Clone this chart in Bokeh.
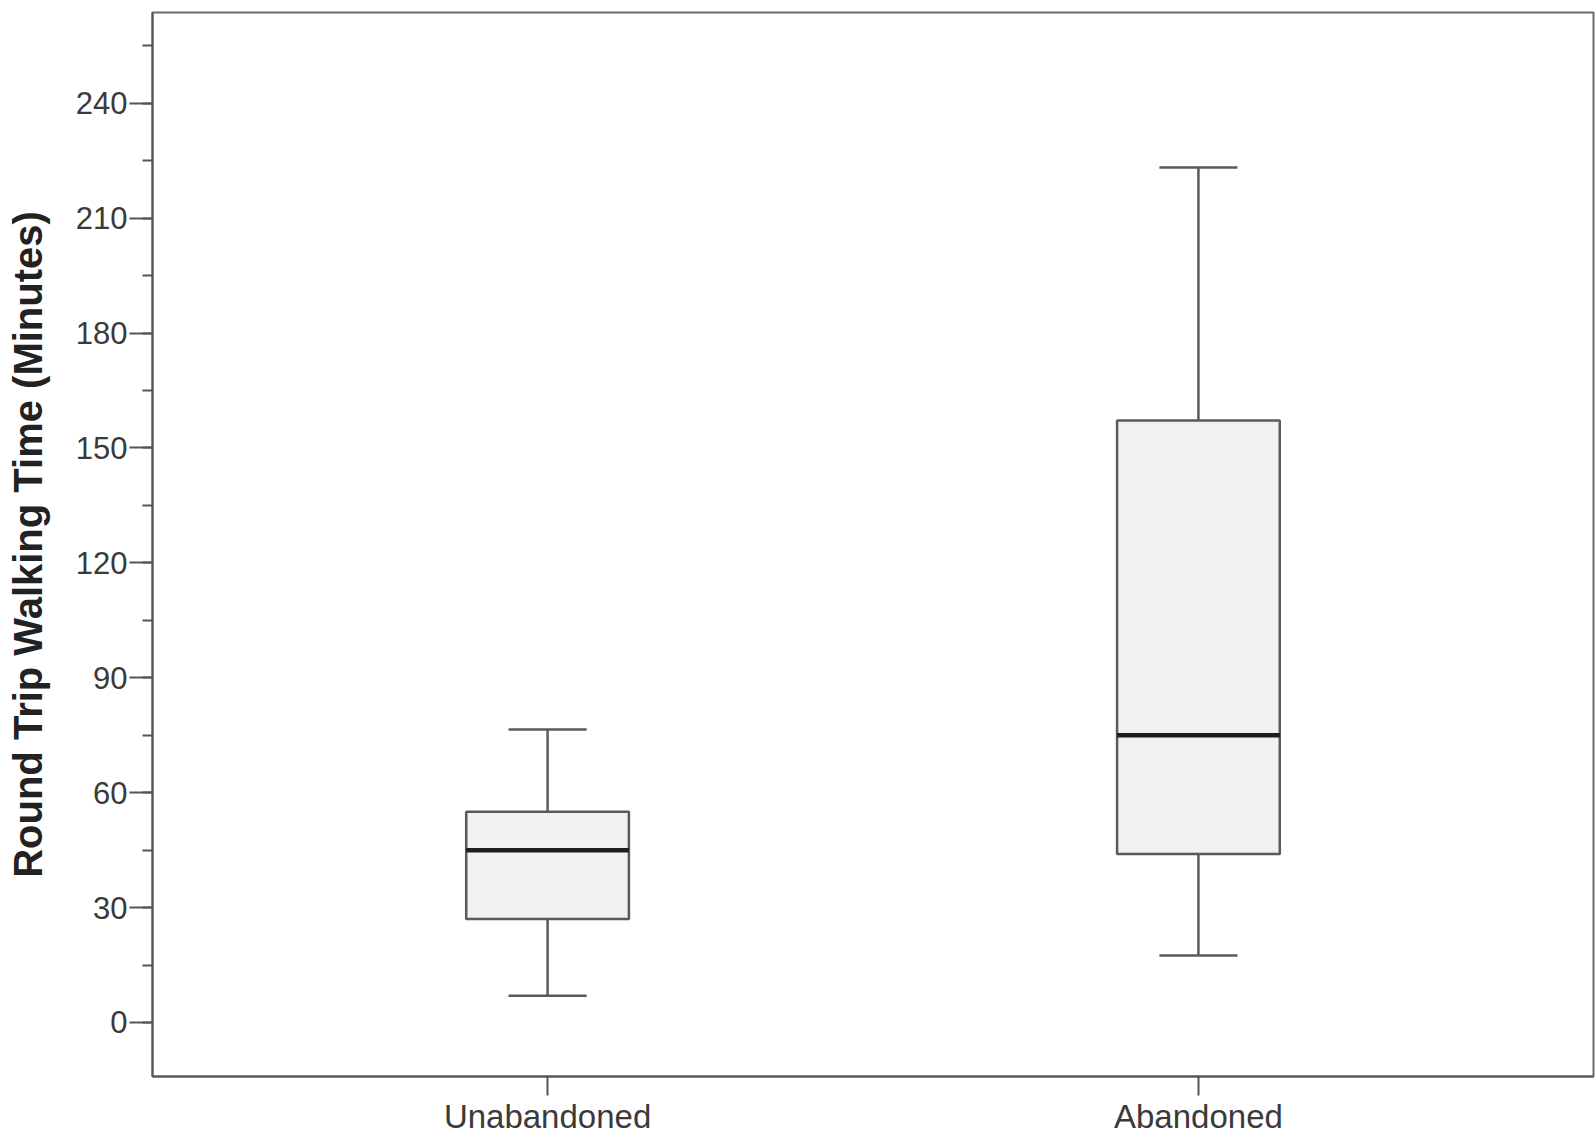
from bokeh.plotting import figure
from bokeh.models import FactorRange, Range1d, SingleIntervalTicker, ColumnDataSource
from bokeh.transform import dodge
from bokeh.embed import file_html
from bokeh.resources import INLINE

# ---- data ----
categories = ["Unabandoned", "Abandoned"]
lower_whisker = [7.0, 17.5]
q1 = [27.0, 44.0]
median = [45.0, 75.0]
q3 = [55.0, 157.2]
upper_whisker = [76.5, 223.2]

y_label = "Round Trip Walking Time (Minutes)"

FONT = "Liberation Sans"
LINE = "#5a5a5a"

src = ColumnDataSource(dict(cat=categories, lw=lower_whisker, q1=q1, med=median,
                            q3=q3, uw=upper_whisker))

x_range = FactorRange(factors=categories, range_padding=0.107, range_padding_units="absolute")

p = figure(width=1595, height=1137, x_range=x_range, y_range=Range1d(-14.1, 263.7),
           output_backend="svg", toolbar_location=None,
           min_border_left=152, min_border_right=2, min_border_top=12, min_border_bottom=59)

p.background_fill_color = "white"
p.border_fill_color = "white"
p.outline_line_color = "#6a6a6a"
p.outline_line_width = 2
p.xgrid.visible = False
p.ygrid.visible = False

# whisker stems
p.segment(x0="cat", y0="q3", x1="cat", y1="uw", source=src, line_color=LINE, line_width=2.5)
p.segment(x0="cat", y0="q1", x1="cat", y1="lw", source=src, line_color=LINE, line_width=2.5)
# whisker caps
cap = 0.06
p.segment(x0=dodge("cat", -cap, range=x_range), y0="uw", x1=dodge("cat", cap, range=x_range), y1="uw",
          source=src, line_color=LINE, line_width=2.5)
p.segment(x0=dodge("cat", -cap, range=x_range), y0="lw", x1=dodge("cat", cap, range=x_range), y1="lw",
          source=src, line_color=LINE, line_width=2.5)
# boxes
p.vbar(x="cat", width=0.25, bottom="q1", top="q3", source=src,
       fill_color="#f1f1f1", line_color=LINE, line_width=2.5)
# medians
half = 0.125
p.segment(x0=dodge("cat", -half, range=x_range), y0="med", x1=dodge("cat", half, range=x_range), y1="med",
          source=src, line_color="#1e1e1e", line_width=4.5)

# y axis
ya = p.yaxis[0]
ya.ticker = SingleIntervalTicker(interval=30, num_minor_ticks=2)
ya.axis_line_color = "#555555"
ya.axis_line_width = 2
ya.major_tick_line_color = "#555555"
ya.major_tick_line_width = 2
ya.major_tick_out = 23
ya.major_tick_in = 0
ya.minor_tick_line_color = "#555555"
ya.minor_tick_line_width = 2
ya.minor_tick_out = 10
ya.minor_tick_in = 0
ya.major_label_text_font = FONT
ya.major_label_text_font_size = "31px"
ya.major_label_text_color = "#3a3a3a"
ya.major_label_standoff = 2
ya.axis_label = y_label
ya.axis_label_text_font = FONT
ya.axis_label_text_font_style = "bold"
ya.axis_label_text_font_size = "40px"
ya.axis_label_text_color = "#222222"
ya.axis_label_standoff = 23

# x axis
xa = p.xaxis[0]
xa.axis_line_color = "#555555"
xa.axis_line_width = 2
xa.major_tick_line_color = "#555555"
xa.major_tick_line_width = 2
xa.major_tick_out = 19
xa.major_tick_in = 0
xa.minor_tick_out = 0
xa.major_label_text_font = FONT
xa.major_label_text_font_size = "33px"
xa.major_label_text_color = "#3a3a3a"
xa.major_label_standoff = 2
xa.group_text_font_size = "0px"

open("out.html", "w").write(file_html(p, INLINE))
